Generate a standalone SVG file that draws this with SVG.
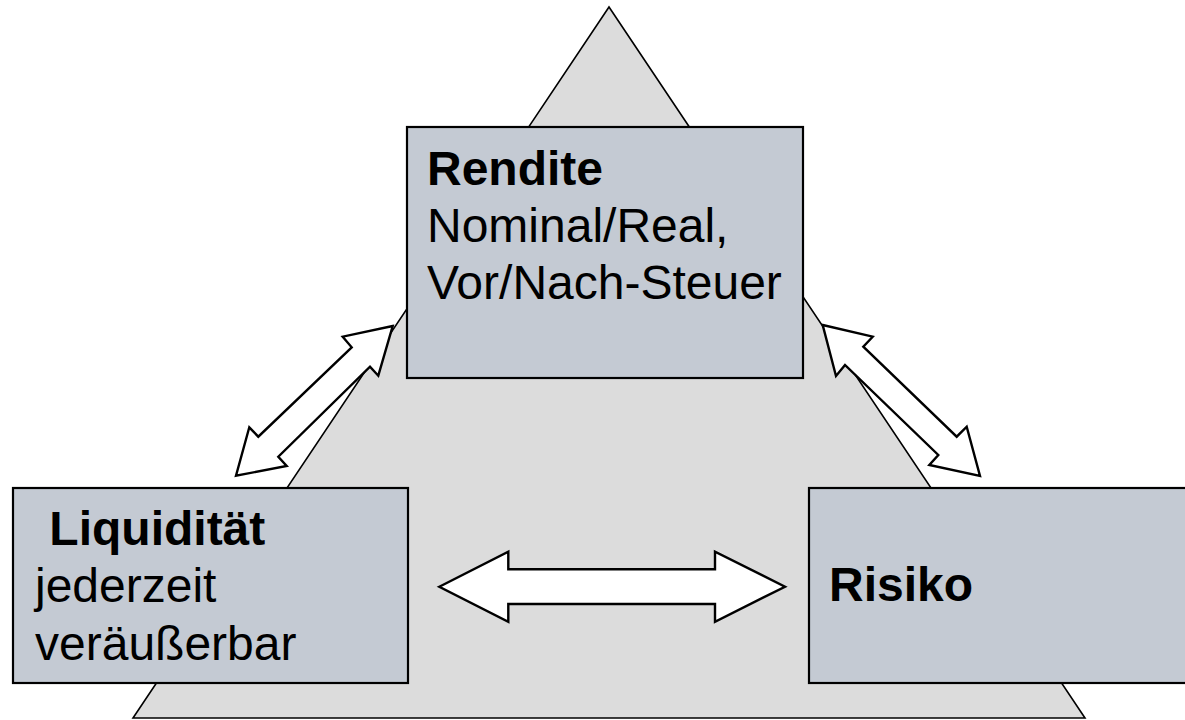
<svg xmlns="http://www.w3.org/2000/svg" width="1185" height="720" viewBox="0 0 1185 720">
  <style>
    .tri { fill: #dcdcdc; stroke: #000; stroke-width: 1.6; stroke-linejoin: miter; }
    .box { fill: #c4cad3; stroke: #000; stroke-width: 2.2; }
    .arrow { fill: #fff; stroke: #000; stroke-width: 2.4; stroke-linejoin: miter; }
    .t { font-family: "Liberation Sans", Arial, sans-serif; font-size: 48px; fill: #000; }
    .b { font-weight: bold; }
  </style>
  <rect width="1185" height="720" fill="#fff"/>

  <!-- background triangle -->
  <polygon class="tri" points="609,7 133,718 1085,718"/>

  <!-- connectors -->
  <g id="connectors">
    <polygon class="arrow" points="392.7,326 342.7,336.7 351.7,347.3 258.3,436.7 249.3,427.3 236,475.7 286.7,466 278.3,456.7 370,366.7 378.3,375.7"/>
    <polygon class="arrow" points="822.7,325 872.7,336.7 863.3,346.7 956.7,436.7 966.7,426.7 980,476 929.3,465 938.3,455 845,365 836,376"/>
    <polygon class="arrow" points="439.3,586.7 508.3,551.7 508.3,569.3 715,569.3 715,551.7 785,586.7 715,621.7 715,604 508.3,604 508.3,621.7"/>
  </g>

  <!-- Rendite -->
  <g id="rendite">
    <rect class="box" x="407" y="127" width="396" height="251"/>
    <text class="t b" x="427" y="185">Rendite</text>
    <text class="t" x="427" y="242">Nominal/Real,</text>
    <text class="t" x="427" y="299">Vor/Nach-Steuer</text>
  </g>

  <!-- Liquiditaet -->
  <g id="liquiditaet">
    <rect class="box" x="13" y="488" width="395" height="195"/>
    <text class="t b" x="36" y="545" xml:space="preserve"> Liquidität</text>
    <text class="t" x="35" y="602">jederzeit</text>
    <text class="t" x="35" y="660">veräußerbar</text>
  </g>

  <!-- Risiko -->
  <g id="risiko">
    <rect class="box" x="809" y="488" width="400" height="195"/>
    <text class="t b" x="829" y="601">Risiko</text>
  </g>
</svg>
